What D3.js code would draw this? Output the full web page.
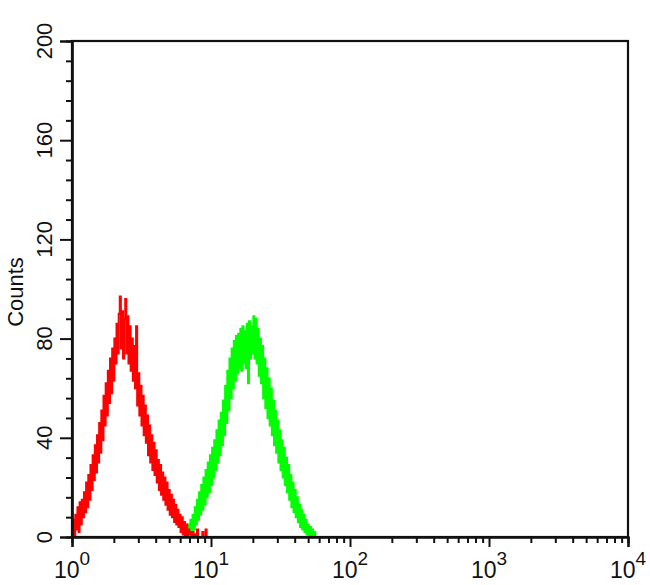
<!DOCTYPE html>
<html>
<head>
<meta charset="utf-8">
<script src="https://cdn.jsdelivr.net/npm/d3@7"></script>
<style>
  body { margin: 0; background: #fff; }
  svg { display: block; font-family: "Liberation Sans", Arial, sans-serif; }
</style>
</head>
<body>
<div id="chart"></div>
<script>
// ---- data ----
const channelsPerDecade = 128;   // histogram channel resolution (log scale)
const redStart = 0;              // first channel of red histogram
const redCounts = [
  1, 7, 0, 9, 3, 12, 2, 14, 5, 15,
  8, 18, 10, 22, 12, 25, 15, 29, 19, 33,
  23, 37, 26, 41, 30, 46, 34, 51, 39, 57,
  45, 62, 49, 67, 54, 72, 58, 76, 63, 80,
  70, 86, 74, 90, 97, 76, 91, 72, 88, 96,
  74, 89, 70, 85, 67, 80, 63, 77, 60, 85,
  53, 66, 49, 61, 45, 57, 41, 53, 38, 49,
  33, 45, 30, 41, 27, 38, 25, 35, 22, 31,
  19, 29, 17, 26, 15, 24, 13, 22, 11, 19,
  9, 17, 8, 15, 6, 13, 5, 11, 4, 9,
  2, 8, 1, 6, 0, 5, 0, 3, 1, 2,
  0, 2, 0, 1, 0, 3, 0, 0, 0, 0,
  2, 0, 0, 3, 0, 0, 0
];
const greenStart = 104;          // first channel of green histogram
const greenCounts = [
  0, 2, 0, 5, 1, 7, 2, 9,
  3, 12, 5, 15, 7, 18, 9, 21,
  11, 24, 13, 27, 16, 30, 18, 33,
  21, 36, 24, 39, 27, 43, 30, 47,
  33, 50, 37, 55, 41, 61, 46, 67,
  51, 72, 56, 76, 60, 79, 63, 81,
  66, 82, 68, 84, 67, 85, 70, 83,
  68, 86, 62, 87, 72, 85, 74, 89,
  72, 88, 70, 84, 65, 80, 62, 77,
  56, 72, 52, 68, 48, 64, 45, 60,
  41, 55, 37, 51, 34, 47, 30, 43,
  27, 39, 24, 36, 21, 32, 18, 29,
  15, 25, 12, 22, 10, 19, 8, 16,
  6, 13, 4, 11, 3, 9, 2, 7,
  1, 5, 0, 4, 0, 3, 0, 2, 0
];
const yMajorTicks = [0, 40, 80, 120, 160, 200];
const yMinorStep = 8;
const xDecades = [1, 10, 100, 1000, 10000];
const xDecadeExponents = ["0", "1", "2", "3", "4"];
const yTitle = "Counts";

// ---- layout ----
const W = 650, H = 585;
const mLeft = 72, mRight = 628, mTop = 41, mBottom = 537;

const svg = d3.select("#chart").append("svg")
  .attr("width", W).attr("height", H);

const x = d3.scaleLog().domain([1, 10000]).range([mLeft, mRight]);
const y = d3.scaleLinear().domain([0, 200]).range([mBottom, mTop]);

// histogram lines
function series(start, counts) {
  return counts.map((v, i) => ({ x: Math.pow(10, (start + i) / channelsPerDecade), v }));
}
const line = d3.line()
  .x(d => x(d.x))
  .y(d => y(d.v))
  .curve(d3.curveStepAfter);

svg.append("path")
  .datum(series(greenStart, greenCounts))
  .attr("d", line)
  .attr("fill", "none")
  .attr("stroke", "#00ff00")
  .attr("stroke-width", 2);

svg.append("path")
  .datum(series(redStart, redCounts))
  .attr("d", line)
  .attr("fill", "none")
  .attr("stroke", "#ff0000")
  .attr("stroke-width", 2);

// frame
svg.append("rect")
  .attr("x", mLeft).attr("y", mTop)
  .attr("width", mRight - mLeft).attr("height", mBottom - mTop)
  .attr("fill", "none").attr("stroke", "#111").attr("stroke-width", 2.2);

// y axis
const yMinor = d3.range(0, 201, yMinorStep).filter(v => !yMajorTicks.includes(v));
const gyMinor = svg.append("g").attr("transform", `translate(${mLeft},0)`)
  .call(d3.axisLeft(y).tickValues(yMinor).tickSize(6).tickFormat(""));
const gyMajor = svg.append("g").attr("transform", `translate(${mLeft},0)`)
  .call(d3.axisLeft(y).tickValues(yMajorTicks).tickSize(12).tickFormat(""));
[gyMinor, gyMajor].forEach(g => {
  g.select(".domain").attr("stroke", "#111").attr("stroke-width", 2.2);
  g.selectAll(".tick line").attr("stroke", "#111").attr("stroke-width", 2);
});

svg.append("g").selectAll("text")
  .data(yMajorTicks)
  .join("text")
  .attr("transform", d => `translate(52,${y(d)}) rotate(-90)`)
  .attr("text-anchor", "middle")
  .attr("font-size", 22)
  .attr("fill", "#111")
  .text(d => d);

svg.append("text")
  .attr("transform", `translate(23,292) rotate(-90)`)
  .attr("text-anchor", "middle")
  .attr("font-size", 22)
  .attr("fill", "#111")
  .text(yTitle);

// x axis
const xMinor = [];
xDecades.slice(0, -1).forEach(d => { for (let k = 2; k <= 9; k++) xMinor.push(d * k); });
const gxMinor = svg.append("g").attr("transform", `translate(0,${mBottom})`)
  .call(d3.axisBottom(x).tickValues(xMinor).tickSize(6).tickFormat(""));
const gxMajor = svg.append("g").attr("transform", `translate(0,${mBottom})`)
  .call(d3.axisBottom(x).tickValues(xDecades).tickSize(10).tickFormat(""));
[gxMinor, gxMajor].forEach(g => {
  g.select(".domain").attr("stroke", "#111").attr("stroke-width", 2.2);
  g.selectAll(".tick line").attr("stroke", "#111").attr("stroke-width", 2);
});

const xl = svg.append("g").selectAll("text")
  .data(xDecades)
  .join("text")
  .attr("x", d => x(d))
  .attr("y", 578)
  .attr("text-anchor", "middle")
  .attr("fill", "#111")
  .attr("font-size", 23);
xl.append("tspan").text("10");
xl.append("tspan")
  .attr("dy", -13)
  .attr("font-size", 19)
  .text((d, i) => xDecadeExponents[i]);
</script>
</body>
</html>
